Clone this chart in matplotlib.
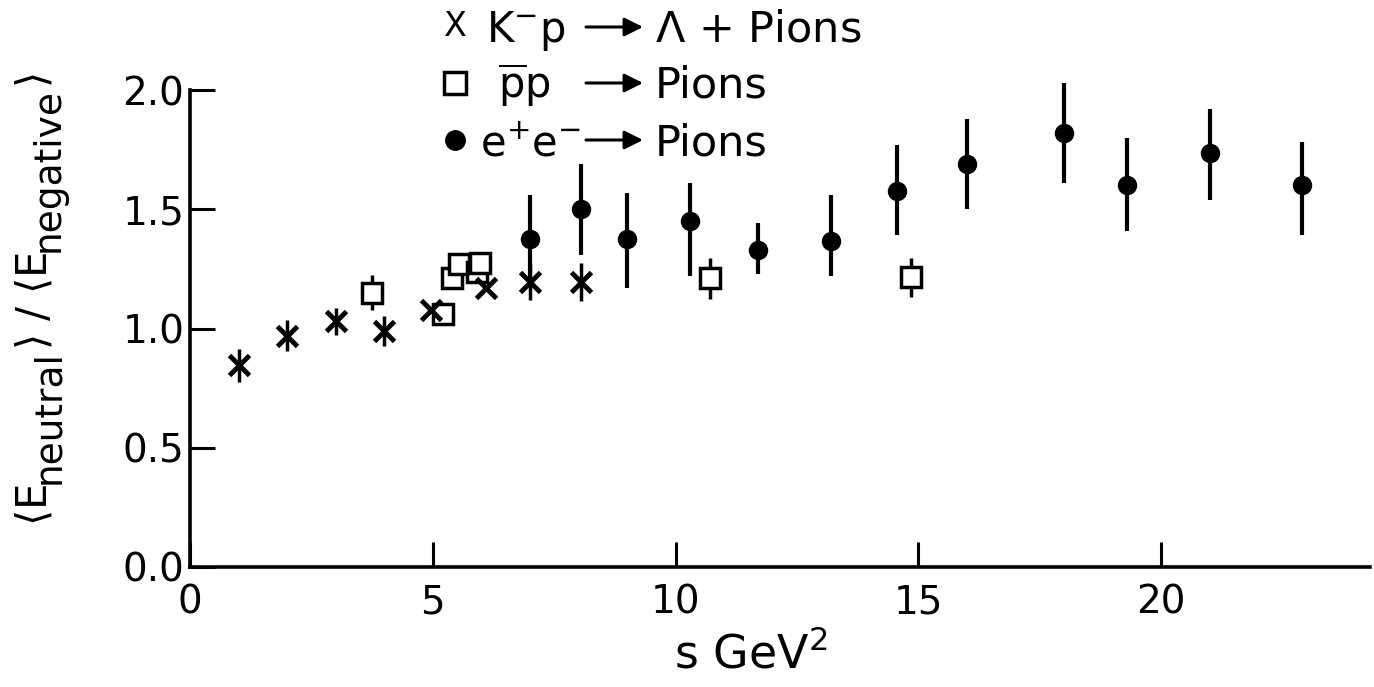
import numpy as np
import matplotlib.pyplot as plt
from matplotlib.lines import Line2D

plt.rcParams['font.family'] = ['DejaVu Sans']
plt.rcParams['mathtext.default'] = 'regular'

# K- p -> Lambda + pions
kp_s = [1.0, 2.0, 3.0, 4.0, 4.97, 6.1, 7.0, 8.05]
kp_r = [0.845, 0.97, 1.03, 0.99, 1.077, 1.168, 1.195, 1.195]
kp_err = [0.07, 0.065, 0.056, 0.063, 0.0, 0.0, 0.075, 0.08]

# pbar p -> pions
pp_s = [3.75, 5.2, 5.4, 5.53, 5.9, 5.98, 10.7, 14.85]
pp_r = [1.15, 1.062, 1.21, 1.27, 1.237, 1.275, 1.21, 1.215]
pp_err = [0.073, 0.0, 0.0, 0.0, 0.0, 0.0, 0.085, 0.082]

# e+ e- -> pions, with upper and lower ends of the error bars
ee_s = [7.0, 8.05, 9.0, 10.3, 11.7, 13.2, 14.55, 16.0, 18.0, 19.3, 21.0, 22.9]
ee_r = [1.375, 1.50, 1.375, 1.45, 1.33, 1.365, 1.575, 1.69, 1.82, 1.60, 1.735, 1.60]
ee_hi = [1.56, 1.69, 1.57, 1.61, 1.444, 1.56, 1.77, 1.88, 2.03, 1.80, 1.92, 1.78]
ee_lo = [1.18, 1.31, 1.17, 1.22, 1.23, 1.22, 1.39, 1.50, 1.61, 1.41, 1.54, 1.39]

xticks = [0, 5, 10, 15, 20]
xticklabels = ['0', '5', '10', '15', '20']
yticks = [0.0, 0.5, 1.0, 1.5, 2.0]
yticklabels = ['0.0', '0.5', '1.0', '1.5', '2.0']

W, H = 1374, 687
def fx(px):
    return px / W
def fy(py):
    return 1 - py / H

fig = plt.figure(figsize=(W / 100, H / 100), dpi=100)
ax = fig.add_axes([fx(190), fy(567), 1180 / W, 477 / H])

ee_r = np.array(ee_r)
ee_err = [ee_r - np.array(ee_lo), np.array(ee_hi) - ee_r]

ax.errorbar(kp_s, kp_r, yerr=kp_err, fmt='x', color='k', ms=14, mew=3.5,
            elinewidth=2.5, capsize=0, clip_on=False, zorder=3)
ax.errorbar(pp_s, pp_r, yerr=pp_err, fmt='s', color='k', mfc='white', ms=15,
            mew=2.5, elinewidth=2.5, capsize=0, clip_on=False, zorder=2)
ax.errorbar(ee_s, ee_r, yerr=ee_err, fmt='o', color='k', ms=13,
            elinewidth=3, capsize=0, clip_on=False, zorder=4)

ax.set_xlim(0, 24.3)
ax.set_ylim(0, 2.0)
ax.set_xticks(xticks)
ax.set_xticklabels(xticklabels)
ax.set_yticks(yticks)
ax.set_yticklabels(yticklabels)
ax.tick_params(direction='in', length=18, width=2.2, labelsize=28)
ax.tick_params(axis='x', pad=12)
ax.tick_params(axis='y', pad=4)
for side in ['top', 'right']:
    ax.spines[side].set_visible(False)
for side in ['left', 'bottom']:
    ax.spines[side].set_linewidth(2.6)

ax.set_xlabel('s GeV$^2$', fontsize=33)
ax.xaxis.set_label_coords(0.475, -0.135)

# y label built from pieces so the subscripts stay large
renderer = fig.canvas.get_renderer()
ylab = [(r'$\langle$E', 30, 0), ('neutral', 27, 12), (r'$\rangle$ / $\langle$E', 30, 0),
        ('negative', 27, 12), (r'$\rangle$', 30, 0)]
ypos = H - 526
for s, size, drop in ylab:
    t = fig.text(0, 0, s, fontsize=size)
    w = t.get_window_extent(renderer).width
    t.remove()
    fig.text(fx(47 + drop), ypos / H, s, fontsize=size, rotation=90,
             rotation_mode='anchor', ha='left', va='baseline')
    ypos += w

# key to the three reactions, drawn above the data
keys = [('x', r'K$^{-}$p', r'$\Lambda$ + Pions', 486),
        ('s', r'$\overline{p}$p', 'Pions', 498),
        ('o', r'e$^{+}$e$^{-}$', 'Pions', 480)]
rows = [27, 83, 140]
for (m, left, right, x0), row in zip(keys, rows):
    if m == 'x':
        fig.text(fx(455), fy(row), 'X', fontsize=24, ha='center', va='center')
    elif m == 's':
        fig.add_artist(Line2D([fx(455)], [fy(row)], marker='s', ms=16, mfc='white',
                              mec='k', mew=2.5, transform=fig.transFigure))
    else:
        fig.add_artist(Line2D([fx(455)], [fy(row)], marker='o', ms=14, color='k',
                              transform=fig.transFigure))
    fig.text(fx(x0), fy(row + 15), left, fontsize=30, ha='left', va='baseline')
    fig.text(fx(655), fy(row + 15), right, fontsize=31, ha='left', va='baseline')
    ax.annotate('', xy=(fx(643), fy(row)), xytext=(fx(586), fy(row)),
                xycoords='figure fraction', textcoords='figure fraction',
                arrowprops=dict(arrowstyle='-|>', color='k', lw=2.2,
                                mutation_scale=28, shrinkA=0, shrinkB=0))

fig.savefig('out.png', dpi=100)
